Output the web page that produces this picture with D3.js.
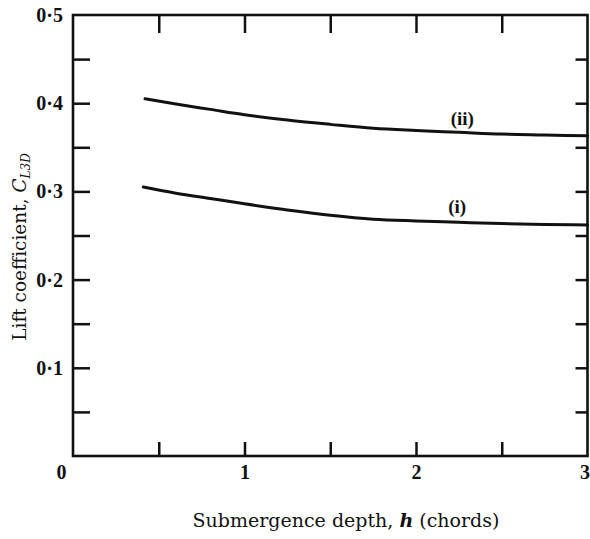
<!DOCTYPE html>
<html>
<head>
<meta charset="utf-8">
<script src="https://cdn.jsdelivr.net/npm/d3@7"></script>
<style>
  body { margin: 0; background: #fff; }
  svg { display: block; }
</style>
</head>
<body>
<div class="container"></div>
<script>
// data
var depthI   = [0.41, 0.6, 0.8, 1.0, 1.25, 1.5, 1.75, 2.0, 2.25, 2.5, 2.75, 3.0];
var liftI    = [0.305, 0.298, 0.292, 0.286, 0.279, 0.273, 0.2685, 0.2665, 0.265, 0.2635, 0.2625, 0.262];
var depthII  = [0.42, 0.6, 0.8, 1.0, 1.25, 1.5, 1.75, 2.0, 2.25, 2.5, 2.75, 3.0];
var liftII   = [0.405, 0.399, 0.393, 0.387, 0.381, 0.376, 0.3715, 0.369, 0.367, 0.365, 0.364, 0.363];
var xTickLabels = [0, 1, 2, 3];
var yTickLabels = [0.1, 0.2, 0.3, 0.4, 0.5];
var xTicks = [0.5, 1, 1.5, 2, 2.5];
var yTicks = [0.05, 0.1, 0.15, 0.2, 0.25, 0.3, 0.35, 0.4, 0.45];

var width = 590, height = 539;
var svg = d3.select(".container").append("svg").attr("width", width).attr("height", height);

var x = d3.scaleLinear().domain([0, 3]).range([73, 587.5]);
var y = d3.scaleLinear().domain([0, 0.5]).range([456, 15]);

var serif = "'Liberation Serif', 'Times New Roman', serif";
var wideSerif = "'DejaVu Serif', serif";

function fmt(d) { return d3.format(".1f")(d).replace(".", "\u00b7"); }

// frame
svg.append("rect")
  .attr("x", x(0)).attr("y", y(0.5))
  .attr("width", x(3) - x(0)).attr("height", y(0) - y(0.5))
  .attr("fill", "none").attr("stroke", "#111").attr("stroke-width", 2.6);

// inward ticks on all four sides
function tickOnly(axis) {
  return function(g) {
    g.call(axis);
    g.select(".domain").remove();
    g.selectAll("text").remove();
    g.selectAll("line").attr("stroke", "#111").attr("stroke-width", 2.5);
  };
}
svg.append("g").attr("transform", "translate(" + x(0) + ",0)")
  .call(tickOnly(d3.axisLeft(y).tickValues(yTicks).tickSize(-17)));
svg.append("g").attr("transform", "translate(" + x(3) + ",0)")
  .call(tickOnly(d3.axisRight(y).tickValues(yTicks).tickSize(-12)));
svg.append("g").attr("transform", "translate(0," + y(0) + ")")
  .call(tickOnly(d3.axisBottom(x).tickValues(xTicks).tickSize(-14)));
svg.append("g").attr("transform", "translate(0," + y(0.5) + ")")
  .call(tickOnly(d3.axisTop(x).tickValues(xTicks).tickSize(-18)));

// tick labels
function styleLabels(g) {
  g.select(".domain").remove();
  g.attr("font-family", serif).attr("font-size", 20).attr("font-weight", "bold");
  g.selectAll("text").attr("fill", "#111");
}
var yl = svg.append("g").attr("transform", "translate(" + x(0) + ",0)")
  .call(d3.axisLeft(y).tickValues(yTickLabels).tickSize(0).tickPadding(10).tickFormat(fmt))
  .call(styleLabels);

var xl = svg.append("g").attr("transform", "translate(0," + y(0) + ")")
  .call(d3.axisBottom(x).tickValues(xTickLabels).tickSize(0).tickPadding(9).tickFormat(d3.format("d")))
  .call(styleLabels);
xl.selectAll("text").attr("dx", function(d) { return d === 0 ? -12 : (d === 3 ? -3 : 0); });

// curves
var line = d3.line()
  .x(function(d) { return x(d[0]); })
  .y(function(d) { return y(d[1]); })
  .curve(d3.curveMonotoneX);

var curves = [
  { name: "(i)",  pts: d3.zip(depthI, liftI),   lx: 2.24, ly: 0.275 },
  { name: "(ii)", pts: d3.zip(depthII, liftII), lx: 2.27, ly: 0.375 }
];

curves.forEach(function(c) {
  svg.append("path")
    .attr("d", line(c.pts))
    .attr("fill", "none").attr("stroke", "#111")
    .attr("stroke-width", 3).attr("stroke-linecap", "round");
  svg.append("text")
    .attr("x", x(c.lx)).attr("y", y(c.ly))
    .attr("text-anchor", "middle")
    .attr("font-family", serif)
    .attr("font-size", 19).attr("font-weight", "bold")
    .attr("fill", "#111")
    .text(c.name);
});

// axis titles
var xt = svg.append("text")
  .attr("x", 346).attr("y", 527)
  .attr("text-anchor", "middle")
  .attr("font-family", wideSerif).attr("font-size", 19).attr("fill", "#111");
xt.append("tspan").text("Submergence depth, ");
xt.append("tspan").attr("font-weight", "bold").attr("font-style", "italic").text("h");
xt.append("tspan").text(" (chords)");

var yt = svg.append("text")
  .attr("transform", "translate(26,247) rotate(-90)")
  .attr("text-anchor", "middle")
  .attr("font-family", wideSerif).attr("font-size", 18.5).attr("fill", "#111");
yt.append("tspan").text("Lift coefficient, ");
yt.append("tspan").attr("font-style", "italic").text("C");
yt.append("tspan").attr("font-style", "italic").attr("font-size", 12).attr("dy", 4).text("L3D");
</script>
</body>
</html>
